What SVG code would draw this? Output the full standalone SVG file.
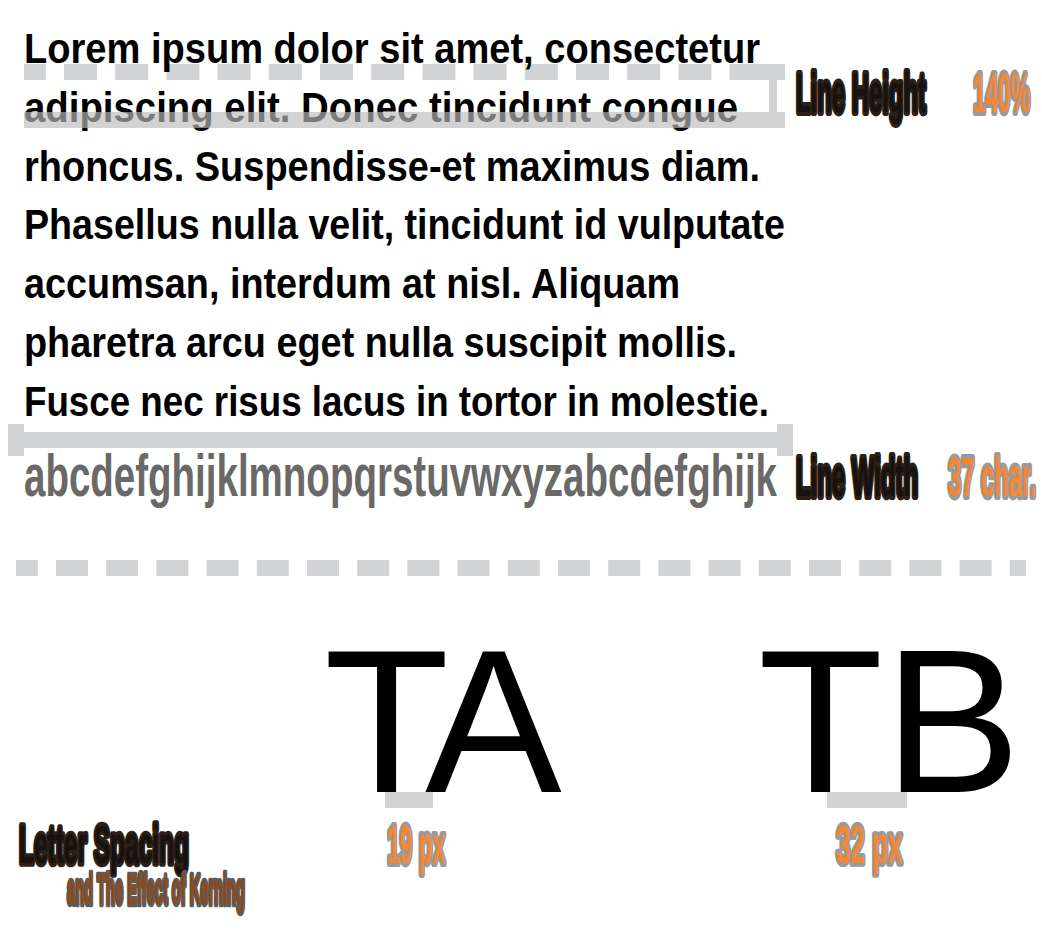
<svg xmlns="http://www.w3.org/2000/svg" width="1042" height="938" viewBox="0 0 1042 938">
  <style>
    .para { font-family: "Liberation Sans", Arial, sans-serif; font-weight: 700; font-size: 38px; fill: #000; }
    .cond { font-family: "Liberation Sans", Arial, sans-serif; font-weight: 700; }
    .dark { fill: #17120f; stroke: #2c1f16; stroke-width: 6px; paint-order: stroke; stroke-linejoin: round; vector-effect: non-scaling-stroke; }
    .orange { fill: #f58634; stroke: #9a9a9a; stroke-width: 6px; paint-order: stroke; stroke-linejoin: round; vector-effect: non-scaling-stroke; }
    .brown { fill: #8d4a1c; stroke: #5d5a58; stroke-width: 5px; paint-order: stroke; stroke-linejoin: round; vector-effect: non-scaling-stroke; }
    .guide { fill: #d1d3d4; }
    .dash { stroke: #d1d3d4; stroke-width: 16px; fill: none; }
    .big { font-family: "Liberation Sans", Arial, sans-serif; font-size: 205px; fill: #000; font-kerning: none; }
  </style>
  <rect width="1042" height="938" fill="#ffffff"/>

  <g id="line-height-guide-top">
    <line class="dash" x1="24" y1="72" x2="762" y2="72" stroke-dasharray="33 18.2" stroke-dashoffset="11.2"/>
  </g>

  <g id="paragraph">
    <text class="para" transform="translate(24 63) scale(1 1.1)" textLength="736" lengthAdjust="spacingAndGlyphs">Lorem ipsum dolor sit amet, consectetur</text>
    <text class="para" transform="translate(24 121.8) scale(1 1.1)" textLength="714" lengthAdjust="spacingAndGlyphs">adipiscing elit. Donec tincidunt congue</text>
    <text class="para" transform="translate(24 180.6) scale(1 1.1)" textLength="736" lengthAdjust="spacingAndGlyphs">rhoncus. Suspendisse-et maximus diam.</text>
    <text class="para" transform="translate(24 239.4) scale(1 1.1)" textLength="761" lengthAdjust="spacingAndGlyphs">Phasellus nulla velit, tincidunt id vulputate</text>
    <text class="para" transform="translate(24 298.2) scale(1 1.1)" textLength="656" lengthAdjust="spacingAndGlyphs">accumsan, interdum at nisl. Aliquam</text>
    <text class="para" transform="translate(24 357) scale(1 1.1)" textLength="713" lengthAdjust="spacingAndGlyphs">pharetra arcu eget nulla suscipit mollis.</text>
    <text class="para" transform="translate(24 415.8) scale(1 1.1)" textLength="745" lengthAdjust="spacingAndGlyphs">Fusce nec risus lacus in tortor in molestie.</text>
  </g>

  <g id="line-height-marker">
    <rect x="24" y="112" width="761" height="16" fill="#bbbbbb" opacity="0.65"/>
    <rect class="guide" x="753" y="64" width="32" height="16"/>
    <rect class="guide" x="769" y="80" width="8" height="32"/>
  </g>

  <g id="line-height-label">
    <text class="cond dark" transform="translate(796 112) scale(1 2.33)" font-size="24" textLength="130" lengthAdjust="spacingAndGlyphs">Line Height</text>
    <text class="cond orange" transform="translate(973 112) scale(1 2.5)" font-size="22.3" textLength="57" lengthAdjust="spacingAndGlyphs">140%</text>
  </g>

  <g id="line-width-marker">
    <rect class="guide" x="24" y="432" width="753" height="16"/>
    <rect class="guide" x="8" y="424" width="16" height="32"/>
    <rect class="guide" x="777" y="424" width="16" height="32"/>
  </g>

  <g id="alphabet">
    <text class="cond" transform="translate(24 496) scale(1 1.55)" font-size="38.5" fill="#696969" textLength="753" lengthAdjust="spacingAndGlyphs">abcdefghijklmnopqrstuvwxyzabcdefghijk</text>
  </g>

  <g id="line-width-label">
    <text class="cond dark" transform="translate(796 496) scale(1 2.34)" font-size="23.9" textLength="122" lengthAdjust="spacingAndGlyphs">Line Width</text>
    <text class="cond orange" transform="translate(948 496) scale(1 2.4)" font-size="23.3" textLength="88" lengthAdjust="spacingAndGlyphs">37 char.</text>
  </g>

  <g id="separator">
    <line class="dash" x1="16" y1="568" x2="1026" y2="568" stroke-dasharray="32 18.2" stroke-dashoffset="10.2"/>
  </g>

  <g id="kerning-TA">
    <text class="big" y="792"><tspan x="324">T</tspan><tspan x="425">A</tspan></text>
    <rect class="guide" x="385" y="792" width="48" height="16"/>
    <text class="cond orange" transform="translate(387 863) scale(1 2.4)" font-size="22.7" textLength="58" lengthAdjust="spacingAndGlyphs">19 px</text>
  </g>

  <g id="kerning-TB">
    <text class="big" y="792"><tspan x="758">T</tspan><tspan x="884">B</tspan></text>
    <rect class="guide" x="827" y="792" width="80" height="16"/>
    <text class="cond orange" transform="translate(836 863) scale(1 2.11)" font-size="25.8" textLength="66" lengthAdjust="spacingAndGlyphs">32 px</text>
  </g>

  <g id="letter-spacing-title">
    <text class="cond dark" transform="translate(19 863) scale(1 2.22)" font-size="24.5" textLength="170" lengthAdjust="spacingAndGlyphs">Letter Spacing</text>
    <text class="cond brown" transform="translate(67 904) scale(1 2.9)" font-size="14.6" textLength="178" lengthAdjust="spacingAndGlyphs">and The Effect of Kerning</text>
  </g>
</svg>
